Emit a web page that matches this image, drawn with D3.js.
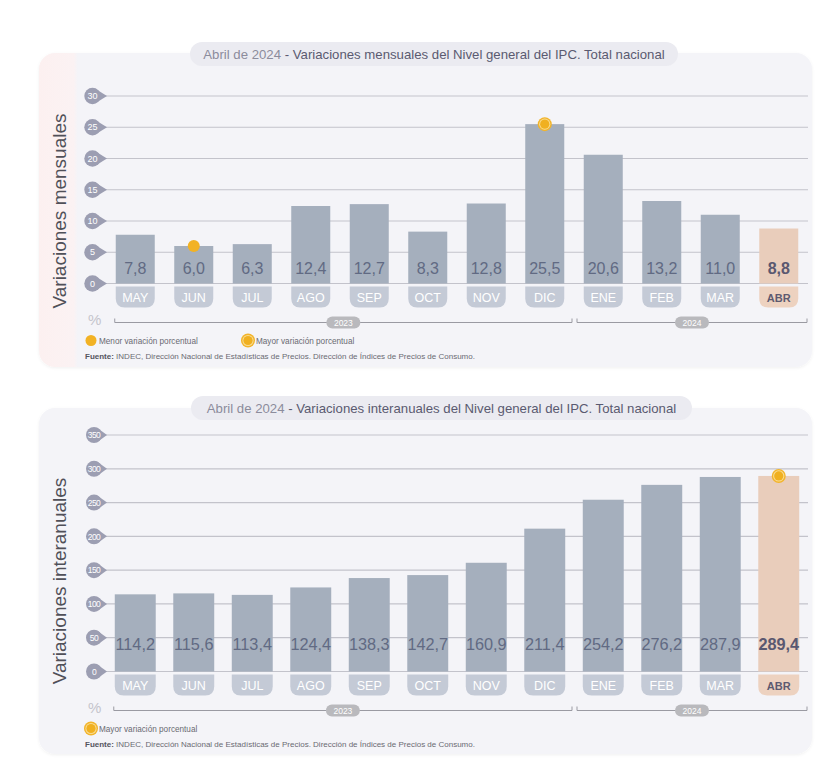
<!DOCTYPE html>
<html><head><meta charset="utf-8">
<script src="https://cdn.jsdelivr.net/npm/d3@7"></script>
<style>
html,body{margin:0;padding:0;background:#fff;}
svg{display:block;font-family:"Liberation Sans",Arial,sans-serif;}
</style></head>
<body>
<svg id="c" width="837" height="761"></svg>
<script>
const months = ["MAY","JUN","JUL","AGO","SEP","OCT","NOV","DIC","ENE","FEB","MAR","ABR"];
const years = ["2023","2023","2023","2023","2023","2023","2023","2023","2024","2024","2024","2024"];
const mensual = [7.8,6.0,6.3,12.4,12.7,8.3,12.8,25.5,20.6,13.2,11.0,8.8];
const interanual = [114.2,115.6,113.4,124.4,138.3,142.7,160.9,211.4,254.2,276.2,287.9,289.4];
const ticksMensual = [0,5,10,15,20,25,30];
const ticksInteranual = [0,50,100,150,200,250,300,350];
const minMensual = "JUN", maxMensual = "DIC", maxInteranual = "ABR";
const fuente = "INDEC, Dirección Nacional de Estadísticas de Precios. Dirección de Índices de Precios de Consumo.";

const svg = d3.select("#c");
const defs = svg.append("defs");
const g1 = defs.append("linearGradient").attr("id","pinkL").attr("x1","0").attr("x2","1");
g1.append("stop").attr("offset","0%").attr("stop-color","#fcf0f0");
g1.append("stop").attr("offset","4.5%").attr("stop-color","#fbf2f3");
g1.append("stop").attr("offset","5%").attr("stop-color","#f4f4f8");
g1.append("stop").attr("offset","100%").attr("stop-color","#f4f4f8");
const sh = defs.append("filter").attr("id","sh").attr("x","-5%").attr("y","-5%").attr("width","110%").attr("height","115%");
sh.append("feDropShadow").attr("dx",0).attr("dy",1).attr("stdDeviation",1.5).attr("flood-color","#000").attr("flood-opacity",0.06);

function roundBottom(x,y,w,h,r){
  return `M${x},${y}H${x+w}V${y+h-r}Q${x+w},${y+h} ${x+w-r},${y+h}H${x+r}Q${x},${y+h} ${x},${y+h-r}Z`;
}

function panel(cfg){
  const g = svg.append("g");
  g.append("rect").attr("x",39).attr("y",cfg.panelTop).attr("width",773).attr("height",cfg.panelBottom-cfg.panelTop)
    .attr("rx",16).attr("fill",cfg.pink?"url(#pinkL)":"#f4f4f8").attr("filter","url(#sh)");
  // title pill
  g.append("rect").attr("x",cfg.pill[0]).attr("y",cfg.pillY).attr("width",cfg.pill[1]-cfg.pill[0]).attr("height",24)
    .attr("rx",12).attr("fill","#ebebf1");
  const t = g.append("text").attr("x",(cfg.pill[0]+cfg.pill[1])/2).attr("y",cfg.pillY+16.5).attr("text-anchor","middle")
    .attr("font-size",13.2);
  t.append("tspan").attr("fill","#8c8c9c").text("Abril de 2024");
  t.append("tspan").attr("fill","#5a5a70").text(" - " + cfg.title);

  const x = d3.scaleBand().domain(months).range([106,808]).paddingInner(cfg.padIn).paddingOuter(cfg.padIn/2);
  const y = d3.scaleLinear().domain([0,cfg.max]).range([cfg.zeroY,cfg.topY]);
  const bw = x.bandwidth();

  // gridlines
  g.append("g").selectAll("line").data(cfg.ticks).join("line")
    .attr("x1",104).attr("x2",808).attr("y1",d=>y(d)).attr("y2",d=>y(d))
    .attr("stroke","#c3c3cb").attr("stroke-width",1.2);
  // tick badges
  const tb = g.append("g").selectAll("g").data(cfg.ticks).join("g").attr("transform",d=>`translate(${cfg.badgeX},${y(d)})`);
  tb.append("path").attr("d",`M4,-6.5L${107-cfg.badgeX},0L4,6.5Z`).attr("fill","#9c9eb2");
  tb.append("circle").attr("r",cfg.badgeR).attr("fill","#9c9eb2");
  tb.append("text").attr("text-anchor","middle").attr("y",3.2)
    .attr("font-size",cfg.tickFs).attr("fill","#fff").attr("letter-spacing",cfg.max>99?-0.5:0).text(d=>d);

  // bars
  g.append("g").selectAll("rect").data(cfg.values).join("rect")
    .attr("x",(d,i)=>x(months[i])).attr("width",bw)
    .attr("y",d=>y(d)).attr("height",d=>cfg.zeroY-y(d))
    .attr("fill",(d,i)=>months[i]==="ABR"?"#e9cdbb":"#a5afbd");

  // month tabs
  const tab = g.append("g").selectAll("g").data(months).join("g");
  tab.append("path").attr("d",m=>roundBottom(x(m),cfg.zeroY+3,bw,21,9))
    .attr("fill",m=>m==="ABR"?"#edd2c0":"#c4cad6");
  tab.append("text").attr("x",m=>x(m)+bw/2).attr("y",cfg.zeroY+18.5).attr("text-anchor","middle")
    .attr("font-size",m=>m==="ABR"?11:12.5).attr("font-weight",m=>m==="ABR"?"bold":"normal")
    .attr("fill",m=>m==="ABR"?"#5d5a70":"#ffffff").text(m=>m);

  // value labels
  g.append("g").selectAll("text").data(cfg.values).join("text")
    .attr("x",(d,i)=>x(months[i])+bw/2).attr("y",cfg.labelY).attr("text-anchor","middle")
    .attr("font-size",cfg.labelFs).attr("font-weight",(d,i)=>months[i]==="ABR"?"bold":"normal")
    .attr("fill",(d,i)=>months[i]==="ABR"?"#5a5870":"#616a83")
    .text(d=>d3.format(".1f")(d).replace(".",","));

  // percent sign
  g.append("text").attr("x",88).attr("y",cfg.zeroY+41).attr("font-size",15).attr("fill","#c4c4cc").text("%");

  // year brackets
  const iEne = years.indexOf("2024");
  const mid = (x(months[iEne-1])+bw + x(months[iEne]))/2;
  const by = cfg.zeroY+39;
  const groups = [{yr:"2023",a:x(months[0])-1,b:mid-2},{yr:"2024",a:mid+3,b:807}];
  groups.forEach(gr=>{
    g.append("path").attr("d",`M${gr.a},${by-4}V${by}H${gr.b}V${by-4}`).attr("fill","none").attr("stroke","#9a9aa2").attr("stroke-width",1);
    const cx=(gr.a+gr.b)/2;
    g.append("rect").attr("x",cx-17).attr("y",by-6).attr("width",34).attr("height",12).attr("rx",6).attr("fill","#b9b9bd");
    g.append("text").attr("x",cx).attr("y",by+3).attr("text-anchor","middle").attr("font-size",8.5).attr("fill","#fff").text(gr.yr);
  });

  // y title
  g.append("text").attr("transform",`translate(${cfg.titleX},${cfg.titleY}) rotate(-90)`).attr("text-anchor","middle")
    .attr("font-size",19).attr("fill","#505058").text(cfg.yTitle);

  // markers
  function ring(cx,cy){
    g.append("circle").attr("cx",cx).attr("cy",cy).attr("r",7).attr("fill","#f2b42a");
    g.append("circle").attr("cx",cx).attr("cy",cy).attr("r",5.6).attr("fill","#f9dc93");
    g.append("circle").attr("cx",cx).attr("cy",cy).attr("r",4.6).attr("fill","#f0b020");
  }
  function dot(cx,cy,r){ g.append("circle").attr("cx",cx).attr("cy",cy).attr("r",r).attr("fill","#f2b224"); }
  if(cfg.minM){ const i=months.indexOf(cfg.minM); dot(x(cfg.minM)+bw/2, y(cfg.values[i]), 6); }
  if(cfg.maxM){ const i=months.indexOf(cfg.maxM); ring(x(cfg.maxM)+bw/2, y(cfg.values[i])); }

  // legend
  const ly = cfg.legendY;
  if(cfg.minM){
    dot(91,ly,5.5);
    g.append("text").attr("x",99).attr("y",ly+3).attr("font-size",8.2).attr("fill","#6a6a72").text("Menor variación porcentual");
    ring(248,ly);
    g.append("text").attr("x",256).attr("y",ly+3).attr("font-size",8.2).attr("fill","#6a6a72").text("Mayor variación porcentual");
  } else {
    ring(91,ly);
    g.append("text").attr("x",99).attr("y",ly+3).attr("font-size",8.2).attr("fill","#6a6a72").text("Mayor variación porcentual");
  }
  const f = g.append("text").attr("x",85).attr("y",cfg.fuenteY).attr("font-size",8).attr("fill","#6a6a72");
  f.append("tspan").attr("font-weight","bold").attr("fill","#55555e").text("Fuente:");
  f.append("tspan").text(" " + fuente);
}

panel({panelTop:53,panelBottom:367,pink:true,pill:[190,678],pillY:42,
  title:"Variaciones mensuales del Nivel general del IPC. Total nacional",
  values:mensual,ticks:ticksMensual,max:30,zeroY:283.5,topY:96,padIn:0.333,tickFs:9,badgeX:92.5,badgeR:8.2,
  labelY:273.5,labelFs:16,yTitle:"Variaciones mensuales",titleX:66,titleY:211,
  minM:minMensual,maxM:maxMensual,legendY:340.5,fuenteY:359});

panel({panelTop:408,panelBottom:754,pink:false,pill:[191,692],pillY:396,
  title:"Variaciones interanuales del Nivel general del IPC. Total nacional",
  values:interanual,ticks:ticksInteranual,max:350,zeroY:671.5,topY:435,padIn:0.3,tickFs:8.5,badgeX:94,badgeR:8,
  labelY:650,labelFs:16.3,yTitle:"Variaciones interanuales",titleX:66,titleY:581,
  minM:null,maxM:maxInteranual,legendY:728.5,fuenteY:747});
</script>
</body></html>
